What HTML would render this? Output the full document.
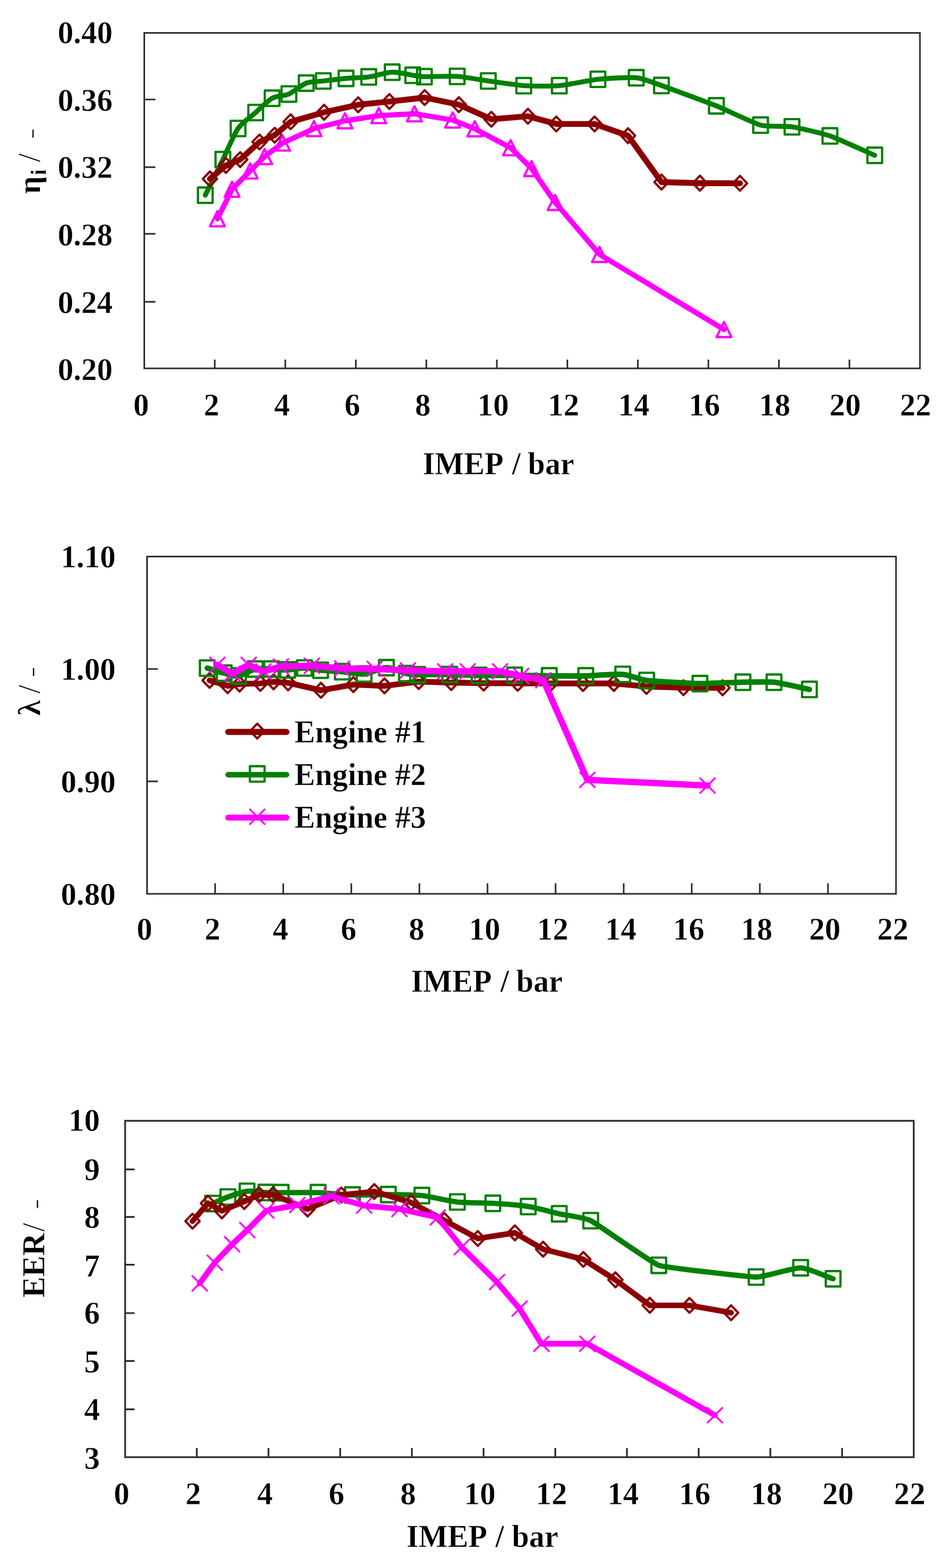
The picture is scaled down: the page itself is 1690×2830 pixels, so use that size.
<!DOCTYPE html>
<html lang="en">
<head>
<meta charset="utf-8">
<title>Engine comparison: efficiency, lambda and EER versus IMEP</title>
<style>
html,body{margin:0;padding:0;background:#fff}
body{width:1690px;height:2830px;overflow:hidden}
svg{display:block;filter:blur(0.7px)}
svg text{font-family:"Liberation Serif","DejaVu Serif",serif;fill:#000;stroke:#fff;stroke-width:0.5px;stroke-linejoin:round}
</style>
</head>
<body>
<svg width="1690" height="2830" viewBox="0 0 1690 2830">
<rect width="1690" height="2830" fill="#fff"/>
<g id="chart1">
<g fill="none" stroke="#2c2c2c" stroke-width="2.9"><rect x="260.5" y="59.4" width="1400.5" height="605.5"/><path d="M387.8 664.9v-16M515.1 664.9v-16M642.5 664.9v-16M769.8 664.9v-16M897.1 664.9v-16M1024.4 664.9v-16M1151.7 664.9v-16M1279 664.9v-16M1406.4 664.9v-16M1533.7 664.9v-16M260.5 179.6h20M260.5 301.8h20M260.5 422h20M260.5 544.8h20"/></g>
<path d="M370.6 352.3 C376.4 340.7 396.8 299.7 402.5 288 C408.2 276.3 422.4 242.5 429.8 231.9 C437.2 221.3 452.8 210.9 461.6 203.1 C470.4 195.3 483.1 181.9 491.3 177.3 C499.5 172.7 513 173.5 521.6 169.7 C530.2 165.9 544.2 153.3 552.9 150 C561.6 146.7 574.5 147.2 583.8 146.1 C593.1 145 612.4 142.6 624.7 141.5 C637 140.4 653.5 140.4 665.7 138.8 C677.9 137.2 696.8 130.7 708.1 130.3 C719.4 129.9 739 134.9 745.3 135.8 C751.6 136.7 759.9 138.2 766.2 138.4 C772.5 138.6 812.5 137 825.5 137.9 C838.5 138.8 868.7 144.3 881.6 146.1 C894.5 147.9 932.6 153.7 945.6 154.6 C958.6 155.5 996.9 155.7 1009.9 154.6 C1022.9 153.5 1066.7 144.4 1079.6 143.1 C1092.5 141.8 1135.8 139 1148.7 140.3 C1161.6 141.6 1182 150 1194.3 154.3 C1206.6 158.6 1281.3 186.2 1293.4 191 C1305.5 195.8 1360.7 222.3 1373.2 225.8 C1385.7 229.3 1417.1 226.9 1429.9 228.9 C1442.7 230.9 1486.2 241.1 1498.5 245.3 C1510.8 249.5 1567.5 275.1 1579.4 280.3" fill="none" stroke="#008000" stroke-width="8.9" stroke-linecap="round" stroke-linejoin="round"/>
<g fill="none" stroke="#008000" stroke-width="4.1" stroke-linejoin="round" stroke-linecap="butt"><rect x="357.4" y="338.4" width="26.5" height="27.8"/><rect x="389.2" y="274.1" width="26.5" height="27.8"/><rect x="416.6" y="218" width="26.5" height="27.8"/><rect x="448.4" y="189.2" width="26.5" height="27.8"/><rect x="478.1" y="163.4" width="26.5" height="27.8"/><rect x="508.4" y="155.8" width="26.5" height="27.8"/><rect x="539.6" y="136.1" width="26.5" height="27.8"/><rect x="570.5" y="132.2" width="26.5" height="27.8"/><rect x="611.5" y="127.6" width="26.5" height="27.8"/><rect x="652.5" y="124.9" width="26.5" height="27.8"/><rect x="694.9" y="116.4" width="26.5" height="27.8"/><rect x="732" y="121.9" width="26.5" height="27.8"/><rect x="753" y="124.5" width="26.5" height="27.8"/><rect x="812.2" y="124" width="26.5" height="27.8"/><rect x="868.4" y="132.2" width="26.5" height="27.8"/><rect x="932.4" y="140.7" width="26.5" height="27.8"/><rect x="996.6" y="140.7" width="26.5" height="27.8"/><rect x="1066.3" y="129.2" width="26.5" height="27.8"/><rect x="1135.5" y="126.4" width="26.5" height="27.8"/><rect x="1181" y="140.4" width="26.5" height="27.8"/><rect x="1280.2" y="177.1" width="26.5" height="27.8"/><rect x="1360" y="211.9" width="26.5" height="27.8"/><rect x="1416.7" y="215" width="26.5" height="27.8"/><rect x="1485.2" y="231.4" width="26.5" height="27.8"/><rect x="1566.2" y="266.4" width="26.5" height="27.8"/></g>
<path d="M379.1 322.9 L407.9 298.6 L433.7 288 L468.6 256.2 L495.9 244 L524.7 219.8 L585.2 202.6 L646.8 189.1 L703.1 183.2 L766.8 176.1 L828.5 188.9 L887.1 215.2 L953.2 209.8 L1004.4 223.7 L1073.5 223.7 L1134 244.9 L1194.3 328.6 L1263.7 330.6 L1336.1 330.8" fill="none" stroke="#8b0000" stroke-width="10.6" stroke-linecap="round" stroke-linejoin="round"/>
<g fill="none" stroke="#8b0000" stroke-width="4.1" stroke-linejoin="round" stroke-linecap="butt"><path d="M379.1 309.5 l12.9 13.4 l-12.9 13.4 l-12.9 -13.4 z"/><path d="M407.9 285.2 l12.9 13.4 l-12.9 13.4 l-12.9 -13.4 z"/><path d="M433.7 274.6 l12.9 13.4 l-12.9 13.4 l-12.9 -13.4 z"/><path d="M468.6 242.8 l12.9 13.4 l-12.9 13.4 l-12.9 -13.4 z"/><path d="M495.9 230.6 l12.9 13.4 l-12.9 13.4 l-12.9 -13.4 z"/><path d="M524.7 206.4 l12.9 13.4 l-12.9 13.4 l-12.9 -13.4 z"/><path d="M585.2 189.2 l12.9 13.4 l-12.9 13.4 l-12.9 -13.4 z"/><path d="M646.8 175.7 l12.9 13.4 l-12.9 13.4 l-12.9 -13.4 z"/><path d="M703.1 169.8 l12.9 13.4 l-12.9 13.4 l-12.9 -13.4 z"/><path d="M766.8 162.7 l12.9 13.4 l-12.9 13.4 l-12.9 -13.4 z"/><path d="M828.5 175.5 l12.9 13.4 l-12.9 13.4 l-12.9 -13.4 z"/><path d="M887.1 201.8 l12.9 13.4 l-12.9 13.4 l-12.9 -13.4 z"/><path d="M953.2 196.4 l12.9 13.4 l-12.9 13.4 l-12.9 -13.4 z"/><path d="M1004.4 210.3 l12.9 13.4 l-12.9 13.4 l-12.9 -13.4 z"/><path d="M1073.5 210.3 l12.9 13.4 l-12.9 13.4 l-12.9 -13.4 z"/><path d="M1134 231.5 l12.9 13.4 l-12.9 13.4 l-12.9 -13.4 z"/><path d="M1194.3 315.2 l12.9 13.4 l-12.9 13.4 l-12.9 -13.4 z"/><path d="M1263.7 317.2 l12.9 13.4 l-12.9 13.4 l-12.9 -13.4 z"/><path d="M1336.1 317.4 l12.9 13.4 l-12.9 13.4 l-12.9 -13.4 z"/></g>
<path d="M392.6 394.9 L419 341.6 L451.7 308.5 L477.8 282.5 L510.1 258.2 L566.9 232.1 L622.8 218 L683.9 208.7 L748.3 205.3 L817.3 216.6 L857.3 232.4 L921.9 266.7 L959.8 304.2 L1002.4 365.5 L1082.5 459.2 L1307.2 594.8" fill="none" stroke="#ff00ff" stroke-width="9.5" stroke-linecap="round" stroke-linejoin="round"/>
<g fill="none" stroke="#ff00ff" stroke-width="4.1" stroke-linejoin="round" stroke-linecap="butt"><path d="M392.6 381.2 l13.4 27.3 h-26.9 z"/><path d="M419 328 l13.4 27.3 h-26.9 z"/><path d="M451.7 294.9 l13.4 27.3 h-26.9 z"/><path d="M477.8 268.9 l13.4 27.3 h-26.9 z"/><path d="M510.1 244.5 l13.4 27.3 h-26.9 z"/><path d="M566.9 218.4 l13.4 27.3 h-26.9 z"/><path d="M622.8 204.3 l13.4 27.3 h-26.9 z"/><path d="M683.9 195 l13.4 27.3 h-26.9 z"/><path d="M748.3 191.7 l13.4 27.3 h-26.9 z"/><path d="M817.3 202.9 l13.4 27.3 h-26.9 z"/><path d="M857.3 218.8 l13.4 27.3 h-26.9 z"/><path d="M921.9 253 l13.4 27.3 h-26.9 z"/><path d="M959.8 290.6 l13.4 27.3 h-26.9 z"/><path d="M1002.4 351.9 l13.4 27.3 h-26.9 z"/><path d="M1082.5 445.6 l13.4 27.3 h-26.9 z"/><path d="M1307.2 581.1 l13.4 27.3 h-26.9 z"/></g>
<text transform="translate(203.4 78) scale(0.98 1)" text-anchor="end" font-size="57.8" font-weight="bold">0.40</text>
<text transform="translate(203.4 199.9) scale(0.98 1)" text-anchor="end" font-size="57.8" font-weight="bold">0.36</text>
<text transform="translate(203.4 320.9) scale(0.98 1)" text-anchor="end" font-size="57.8" font-weight="bold">0.32</text>
<text transform="translate(203.4 443.3) scale(0.98 1)" text-anchor="end" font-size="57.8" font-weight="bold">0.28</text>
<text transform="translate(203.4 564.6) scale(0.98 1)" text-anchor="end" font-size="57.8" font-weight="bold">0.24</text>
<text transform="translate(203.4 686.4) scale(0.98 1)" text-anchor="end" font-size="57.8" font-weight="bold">0.20</text>
<text transform="translate(254.9 750.3) scale(0.98 1)" text-anchor="middle" font-size="57.8" font-weight="bold">0</text>
<text transform="translate(382 750.3) scale(0.98 1)" text-anchor="middle" font-size="57.8" font-weight="bold">2</text>
<text transform="translate(509.1 750.3) scale(0.98 1)" text-anchor="middle" font-size="57.8" font-weight="bold">4</text>
<text transform="translate(636.2 750.3) scale(0.98 1)" text-anchor="middle" font-size="57.8" font-weight="bold">6</text>
<text transform="translate(763.3 750.3) scale(0.98 1)" text-anchor="middle" font-size="57.8" font-weight="bold">8</text>
<text transform="translate(890.4 750.3) scale(0.98 1)" text-anchor="middle" font-size="57.8" font-weight="bold">10</text>
<text transform="translate(1017.5 750.3) scale(0.98 1)" text-anchor="middle" font-size="57.8" font-weight="bold">12</text>
<text transform="translate(1144.6 750.3) scale(0.98 1)" text-anchor="middle" font-size="57.8" font-weight="bold">14</text>
<text transform="translate(1271.7 750.3) scale(0.98 1)" text-anchor="middle" font-size="57.8" font-weight="bold">16</text>
<text transform="translate(1398.8 750.3) scale(0.98 1)" text-anchor="middle" font-size="57.8" font-weight="bold">18</text>
<text transform="translate(1525.9 750.3) scale(0.98 1)" text-anchor="middle" font-size="57.8" font-weight="bold">20</text>
<text transform="translate(1653 750.3) scale(0.98 1)" text-anchor="middle" font-size="57.8" font-weight="bold">22</text>
<text transform="translate(0 856.3) scale(0.98 1)" font-size="57" font-weight="bold"><tspan x="778.9">IMEP</tspan><tspan x="951.3" text-anchor="middle"> / </tspan><tspan x="1015.3" text-anchor="middle">bar</tspan></text>
<text transform="translate(71.8 350) rotate(-90) scale(0.98 1)" font-size="57.8" font-weight="bold">η</text>
<text transform="translate(83.2 316.3) rotate(-90) scale(0.98 1)" font-size="39" font-weight="bold">i</text>
<text transform="translate(71.8 292.5) rotate(-90) scale(0.98 1)" font-size="57.8" font-weight="normal">/</text>
<text transform="translate(69.4 250.8) rotate(-90) scale(0.98 0.66)" font-size="57.8" font-weight="normal">-</text>
</g>
<g id="chart2">
<g fill="none" stroke="#2c2c2c" stroke-width="2.9"><rect x="265.5" y="1004.5" width="1352.3" height="608.7"/><path d="M388.4 1613.2v-19M511.4 1613.2v-19M634.3 1613.2v-19M757.2 1613.2v-19M880.2 1613.2v-19M1003.1 1613.2v-19M1126.1 1613.2v-19M1249 1613.2v-19M1371.9 1613.2v-19M1494.9 1613.2v-19M265.5 1207.4h19.5M265.5 1410.3h19.5"/></g>
<path d="M378.5 1228 L411 1237.7 L432.5 1234.6 L470.1 1233.4 L494 1230.6 L520.2 1232.4 L579.5 1245.9 L638 1235.6 L694.2 1237.9 L756 1230.2 L814.7 1231.9 L873.2 1232.9 L934.8 1233.3 L994 1233.6 L1052.6 1233.6 L1108.4 1233.6 L1167.3 1238.9 L1234 1241.2 L1304.7 1241.4" fill="none" stroke="#8b0000" stroke-width="10.5" stroke-linecap="round" stroke-linejoin="round"/>
<g fill="none" stroke="#8b0000" stroke-width="4.1" stroke-linejoin="round" stroke-linecap="butt"><path d="M378.5 1214.6 l12.9 13.4 l-12.9 13.4 l-12.9 -13.4 z"/><path d="M411 1224.3 l12.9 13.4 l-12.9 13.4 l-12.9 -13.4 z"/><path d="M432.5 1221.2 l12.9 13.4 l-12.9 13.4 l-12.9 -13.4 z"/><path d="M470.1 1220 l12.9 13.4 l-12.9 13.4 l-12.9 -13.4 z"/><path d="M494 1217.2 l12.9 13.4 l-12.9 13.4 l-12.9 -13.4 z"/><path d="M520.2 1219 l12.9 13.4 l-12.9 13.4 l-12.9 -13.4 z"/><path d="M579.5 1232.5 l12.9 13.4 l-12.9 13.4 l-12.9 -13.4 z"/><path d="M638 1222.2 l12.9 13.4 l-12.9 13.4 l-12.9 -13.4 z"/><path d="M694.2 1224.5 l12.9 13.4 l-12.9 13.4 l-12.9 -13.4 z"/><path d="M756 1216.8 l12.9 13.4 l-12.9 13.4 l-12.9 -13.4 z"/><path d="M814.7 1218.5 l12.9 13.4 l-12.9 13.4 l-12.9 -13.4 z"/><path d="M873.2 1219.5 l12.9 13.4 l-12.9 13.4 l-12.9 -13.4 z"/><path d="M934.8 1219.9 l12.9 13.4 l-12.9 13.4 l-12.9 -13.4 z"/><path d="M994 1220.2 l12.9 13.4 l-12.9 13.4 l-12.9 -13.4 z"/><path d="M1052.6 1220.2 l12.9 13.4 l-12.9 13.4 l-12.9 -13.4 z"/><path d="M1108.4 1220.2 l12.9 13.4 l-12.9 13.4 l-12.9 -13.4 z"/><path d="M1167.3 1225.5 l12.9 13.4 l-12.9 13.4 l-12.9 -13.4 z"/><path d="M1234 1227.8 l12.9 13.4 l-12.9 13.4 l-12.9 -13.4 z"/><path d="M1304.7 1228 l12.9 13.4 l-12.9 13.4 l-12.9 -13.4 z"/></g>
<path d="M374.2 1205.8 C383.4 1208.6 397.2 1213.1 404.8 1215 C412.4 1216.9 422.8 1221 430.6 1220 C438.4 1219 452.5 1209.3 461 1207.5 C469.5 1205.7 481.3 1207.3 490 1207.5 C498.7 1207.7 510.6 1209.3 519.5 1209 C528.4 1208.7 540.7 1205.5 549.6 1205.6 C558.5 1205.7 570.1 1208.7 578.9 1209.6 C587.7 1210.5 606.3 1211.3 618 1212.3 C629.7 1213.3 645.6 1217.5 657.4 1216.4 C669.2 1215.3 686.2 1205.1 697.6 1205 C709 1204.9 728 1214.4 733.9 1215.7 C739.8 1217 747.9 1217.6 754 1217.7 C760.1 1217.8 799 1217.2 812 1217.4 C825 1217.6 852 1218.8 865 1219 C878 1219.2 916 1218.7 929 1218.8 C942 1218.9 978.8 1219.7 991.8 1219.8 C1004.8 1219.9 1044.6 1220.1 1057.6 1219.8 C1070.6 1219.5 1111.5 1216.2 1124.5 1217.2 C1137.5 1218.2 1154.7 1226.7 1167.6 1228.2 C1180.5 1229.7 1250.7 1233.6 1263.7 1233.8 C1276.7 1234 1328.4 1231.5 1341.4 1231.3 C1354.4 1231.1 1384.6 1229.9 1397.5 1231.3 C1410.4 1232.7 1448.8 1241.7 1461.5 1244.3" fill="none" stroke="#008000" stroke-width="10" stroke-linecap="round" stroke-linejoin="round"/>
<g fill="none" stroke="#008000" stroke-width="4.1" stroke-linejoin="round" stroke-linecap="butt"><rect x="360.9" y="1191.9" width="26.5" height="27.8"/><rect x="391.6" y="1201.1" width="26.5" height="27.8"/><rect x="417.4" y="1206.1" width="26.5" height="27.8"/><rect x="447.8" y="1193.6" width="26.5" height="27.8"/><rect x="476.8" y="1193.6" width="26.5" height="27.8"/><rect x="506.2" y="1195.1" width="26.5" height="27.8"/><rect x="536.4" y="1191.7" width="26.5" height="27.8"/><rect x="565.6" y="1195.7" width="26.5" height="27.8"/><rect x="604.8" y="1198.4" width="26.5" height="27.8"/><rect x="644.1" y="1202.5" width="26.5" height="27.8"/><rect x="684.4" y="1191.1" width="26.5" height="27.8"/><rect x="720.6" y="1201.8" width="26.5" height="27.8"/><rect x="740.8" y="1203.8" width="26.5" height="27.8"/><rect x="798.8" y="1203.5" width="26.5" height="27.8"/><rect x="851.8" y="1205.1" width="26.5" height="27.8"/><rect x="915.8" y="1204.9" width="26.5" height="27.8"/><rect x="978.5" y="1205.9" width="26.5" height="27.8"/><rect x="1044.3" y="1205.9" width="26.5" height="27.8"/><rect x="1111.2" y="1203.3" width="26.5" height="27.8"/><rect x="1154.3" y="1214.3" width="26.5" height="27.8"/><rect x="1250.5" y="1219.9" width="26.5" height="27.8"/><rect x="1328.2" y="1217.4" width="26.5" height="27.8"/><rect x="1384.2" y="1217.4" width="26.5" height="27.8"/><rect x="1448.2" y="1230.4" width="26.5" height="27.8"/></g>
<path d="M392.5 1199.9 L420 1216 L449 1199.9 L475.5 1212 L507 1203 L563.2 1201.5 L617.8 1206.5 L676.4 1207.2 L736.5 1210 L803.9 1211.8 L844.4 1211.6 L902.9 1211.6 L940.8 1220 L981 1227.6 L1060.5 1407.5 L1277.5 1417.8" fill="none" stroke="#ff00ff" stroke-width="11.5" stroke-linecap="round" stroke-linejoin="round"/>
<g fill="none" stroke="#ff00ff" stroke-width="3.3" stroke-linejoin="round" stroke-linecap="round"><path d="M379.2 1186.6 l26.6 26.6 m-26.6 0 l26.6 -26.6"/><path d="M406.7 1202.7 l26.6 26.6 m-26.6 0 l26.6 -26.6"/><path d="M435.7 1186.6 l26.6 26.6 m-26.6 0 l26.6 -26.6"/><path d="M462.2 1198.7 l26.6 26.6 m-26.6 0 l26.6 -26.6"/><path d="M493.7 1189.7 l26.6 26.6 m-26.6 0 l26.6 -26.6"/><path d="M549.9 1188.2 l26.6 26.6 m-26.6 0 l26.6 -26.6"/><path d="M604.5 1193.2 l26.6 26.6 m-26.6 0 l26.6 -26.6"/><path d="M663.1 1193.9 l26.6 26.6 m-26.6 0 l26.6 -26.6"/><path d="M723.2 1196.7 l26.6 26.6 m-26.6 0 l26.6 -26.6"/><path d="M790.6 1198.5 l26.6 26.6 m-26.6 0 l26.6 -26.6"/><path d="M831.1 1198.3 l26.6 26.6 m-26.6 0 l26.6 -26.6"/><path d="M889.6 1198.3 l26.6 26.6 m-26.6 0 l26.6 -26.6"/><path d="M927.5 1206.7 l26.6 26.6 m-26.6 0 l26.6 -26.6"/><path d="M967.7 1214.3 l26.6 26.6 m-26.6 0 l26.6 -26.6"/><path d="M1047.2 1394.2 l26.6 26.6 m-26.6 0 l26.6 -26.6"/><path d="M1264.2 1404.5 l26.6 26.6 m-26.6 0 l26.6 -26.6"/></g>
<text transform="translate(208.8 1023.6) scale(0.98 1)" text-anchor="end" font-size="57.8" font-weight="bold">1.10</text>
<text transform="translate(208.8 1226.7) scale(0.98 1)" text-anchor="end" font-size="57.8" font-weight="bold">1.00</text>
<text transform="translate(208.8 1429.8) scale(0.98 1)" text-anchor="end" font-size="57.8" font-weight="bold">0.90</text>
<text transform="translate(208.8 1632.9) scale(0.98 1)" text-anchor="end" font-size="57.8" font-weight="bold">0.80</text>
<text transform="translate(260.8 1696.3) scale(0.98 1)" text-anchor="middle" font-size="57.8" font-weight="bold">0</text>
<text transform="translate(383.6 1696.3) scale(0.98 1)" text-anchor="middle" font-size="57.8" font-weight="bold">2</text>
<text transform="translate(506.5 1696.3) scale(0.98 1)" text-anchor="middle" font-size="57.8" font-weight="bold">4</text>
<text transform="translate(629.3 1696.3) scale(0.98 1)" text-anchor="middle" font-size="57.8" font-weight="bold">6</text>
<text transform="translate(752.2 1696.3) scale(0.98 1)" text-anchor="middle" font-size="57.8" font-weight="bold">8</text>
<text transform="translate(875 1696.3) scale(0.98 1)" text-anchor="middle" font-size="57.8" font-weight="bold">10</text>
<text transform="translate(997.9 1696.3) scale(0.98 1)" text-anchor="middle" font-size="57.8" font-weight="bold">12</text>
<text transform="translate(1120.8 1696.3) scale(0.98 1)" text-anchor="middle" font-size="57.8" font-weight="bold">14</text>
<text transform="translate(1243.6 1696.3) scale(0.98 1)" text-anchor="middle" font-size="57.8" font-weight="bold">16</text>
<text transform="translate(1366.4 1696.3) scale(0.98 1)" text-anchor="middle" font-size="57.8" font-weight="bold">18</text>
<text transform="translate(1489.3 1696.3) scale(0.98 1)" text-anchor="middle" font-size="57.8" font-weight="bold">20</text>
<text transform="translate(1612.1 1696.3) scale(0.98 1)" text-anchor="middle" font-size="57.8" font-weight="bold">22</text>
<text transform="translate(0 1790.2) scale(0.98 1)" font-size="57" font-weight="bold"><tspan x="757.3">IMEP</tspan><tspan x="929.8" text-anchor="middle"> / </tspan><tspan x="993.9" text-anchor="middle">bar</tspan></text>
<text transform="translate(72.3 1291.7) rotate(-90) scale(0.98 1)" font-size="57.8" font-weight="bold">λ</text>
<text transform="translate(72.3 1251.7) rotate(-90) scale(0.98 1)" font-size="57.8" font-weight="normal">/</text>
<text transform="translate(69.9 1222.5) rotate(-90) scale(0.98 0.66)" font-size="57.8" font-weight="normal">-</text>
<path d="M412 1321H517.3" fill="none" stroke="#8b0000" stroke-width="10.8" stroke-linecap="round"/>
<g fill="none" stroke="#8b0000" stroke-width="4.1" stroke-linejoin="round" stroke-linecap="butt"><path d="M464.5 1306.1 l12.9 13.4 l-12.9 13.4 l-12.9 -13.4 z"/></g>
<text transform="translate(531.8 1339.6) scale(0.98 1)" text-anchor="start" font-size="57" font-weight="bold">Engine #1</text>
<path d="M412 1398.3H517.3" fill="none" stroke="#008000" stroke-width="10" stroke-linecap="round"/>
<g fill="none" stroke="#008000" stroke-width="4.1" stroke-linejoin="round" stroke-linecap="butt"><rect x="451.2" y="1382.9" width="26.5" height="27.8"/></g>
<text transform="translate(531.8 1416.9) scale(0.98 1)" text-anchor="start" font-size="57" font-weight="bold">Engine #2</text>
<path d="M412 1475.6H517.3" fill="none" stroke="#ff00ff" stroke-width="10.6" stroke-linecap="round"/>
<g fill="none" stroke="#ff00ff" stroke-width="3.3" stroke-linejoin="round" stroke-linecap="round"><path d="M451.2 1460.8 l26.6 26.6 m-26.6 0 l26.6 -26.6"/></g>
<text transform="translate(531.8 1494.2) scale(0.98 1)" text-anchor="start" font-size="57" font-weight="bold">Engine #3</text>
</g>
<g id="chart3">
<g fill="none" stroke="#2c2c2c" stroke-width="3.2"><rect x="225.9" y="2022.9" width="1423.9" height="607.1"/><path d="M355.3 2630v-16.5M484.8 2630v-16.5M614.2 2630v-16.5M743.7 2630v-16.5M873.1 2630v-16.5M1002.6 2630v-16.5M1132 2630v-16.5M1261.5 2630v-16.5M1390.9 2630v-16.5M1520.4 2630v-16.5M225.9 2110.6h17M225.9 2196.4h17M225.9 2282.6h17M225.9 2370h17M225.9 2456.4h17M225.9 2543.7h17"/></g>
<path d="M383.8 2172.2 C392.1 2168.7 403 2163.4 411.5 2160.4 C420 2157.4 435.8 2151.3 446 2150.1 C456.2 2148.9 471.7 2152 480 2152.3 C488.3 2152.6 499.3 2152.5 507.6 2152.5 C515.9 2152.5 561.4 2152.1 574.4 2152.5 C587.4 2152.9 623.4 2156.4 636.4 2156.8 C649.4 2157.2 688.1 2155.9 701.1 2156 C714.1 2156.1 748.9 2156.4 761.8 2157.8 C774.7 2159.2 812.9 2168 825.8 2169.4 C838.7 2170.8 876.9 2171 889.9 2171.8 C902.9 2172.6 941 2175.6 953.8 2177.6 C966.6 2179.6 997 2187.8 1009.7 2190.7 C1022.4 2193.6 1055.1 2197.1 1066.6 2203.1 C1078.1 2209.1 1177.1 2279.5 1189.4 2283.7 C1201.7 2287.9 1352.3 2304.7 1365.3 2304.9 C1378.3 2305.1 1432.6 2287.9 1445.6 2288.2 C1458.6 2288.5 1491.9 2303.8 1504.2 2308" fill="none" stroke="#008000" stroke-width="9.6" stroke-linecap="round" stroke-linejoin="round"/>
<g fill="none" stroke="#008000" stroke-width="4.1" stroke-linejoin="round" stroke-linecap="butt"><rect x="370.6" y="2158.3" width="26.5" height="27.8"/><rect x="398.2" y="2146.5" width="26.5" height="27.8"/><rect x="432.8" y="2136.2" width="26.5" height="27.8"/><rect x="466.8" y="2138.4" width="26.5" height="27.8"/><rect x="494.4" y="2138.6" width="26.5" height="27.8"/><rect x="561.1" y="2138.6" width="26.5" height="27.8"/><rect x="623.1" y="2142.9" width="26.5" height="27.8"/><rect x="687.9" y="2142.1" width="26.5" height="27.8"/><rect x="748.5" y="2143.9" width="26.5" height="27.8"/><rect x="812.5" y="2155.5" width="26.5" height="27.8"/><rect x="876.6" y="2157.9" width="26.5" height="27.8"/><rect x="940.5" y="2163.7" width="26.5" height="27.8"/><rect x="996.5" y="2176.8" width="26.5" height="27.8"/><rect x="1053.3" y="2189.2" width="26.5" height="27.8"/><rect x="1176.2" y="2269.8" width="26.5" height="27.8"/><rect x="1352" y="2291" width="26.5" height="27.8"/><rect x="1432.3" y="2274.3" width="26.5" height="27.8"/><rect x="1491" y="2294.1" width="26.5" height="27.8"/></g>
<path d="M347.6 2204 L375.5 2171.6 L400.6 2185.4 L441 2168.6 L467.7 2156.3 L493 2156.3 L555.4 2182.1 L616.3 2156.8 L675.8 2150.5 L742.3 2170.4 L802 2202.6 L862.7 2235.3 L929.6 2225.1 L980.6 2254.6 L1053.2 2273 L1111.2 2309.9 L1173.2 2355.9 L1244.9 2356 L1320 2369.3" fill="none" stroke="#8b0000" stroke-width="10.2" stroke-linecap="round" stroke-linejoin="round"/>
<g fill="none" stroke="#8b0000" stroke-width="4.1" stroke-linejoin="round" stroke-linecap="butt"><path d="M347.6 2190.6 l12.9 13.4 l-12.9 13.4 l-12.9 -13.4 z"/><path d="M375.5 2158.2 l12.9 13.4 l-12.9 13.4 l-12.9 -13.4 z"/><path d="M400.6 2172 l12.9 13.4 l-12.9 13.4 l-12.9 -13.4 z"/><path d="M441 2155.2 l12.9 13.4 l-12.9 13.4 l-12.9 -13.4 z"/><path d="M467.7 2142.9 l12.9 13.4 l-12.9 13.4 l-12.9 -13.4 z"/><path d="M493 2142.9 l12.9 13.4 l-12.9 13.4 l-12.9 -13.4 z"/><path d="M555.4 2168.7 l12.9 13.4 l-12.9 13.4 l-12.9 -13.4 z"/><path d="M616.3 2143.4 l12.9 13.4 l-12.9 13.4 l-12.9 -13.4 z"/><path d="M675.8 2137.1 l12.9 13.4 l-12.9 13.4 l-12.9 -13.4 z"/><path d="M742.3 2157 l12.9 13.4 l-12.9 13.4 l-12.9 -13.4 z"/><path d="M802 2189.2 l12.9 13.4 l-12.9 13.4 l-12.9 -13.4 z"/><path d="M862.7 2221.9 l12.9 13.4 l-12.9 13.4 l-12.9 -13.4 z"/><path d="M929.6 2211.7 l12.9 13.4 l-12.9 13.4 l-12.9 -13.4 z"/><path d="M980.6 2241.2 l12.9 13.4 l-12.9 13.4 l-12.9 -13.4 z"/><path d="M1053.2 2259.6 l12.9 13.4 l-12.9 13.4 l-12.9 -13.4 z"/><path d="M1111.2 2296.5 l12.9 13.4 l-12.9 13.4 l-12.9 -13.4 z"/><path d="M1173.2 2342.5 l12.9 13.4 l-12.9 13.4 l-12.9 -13.4 z"/><path d="M1244.9 2342.6 l12.9 13.4 l-12.9 13.4 l-12.9 -13.4 z"/><path d="M1320 2355.9 l12.9 13.4 l-12.9 13.4 l-12.9 -13.4 z"/></g>
<path d="M360.6 2316.2 L387.7 2279 L419.2 2245.8 L446.5 2220.1 L481 2185 L536.8 2174.8 L598.4 2159 L657.4 2175.9 L721.2 2182 L790.4 2197.2 L833.6 2251 L897.3 2314 L938.1 2361.8 L977.6 2425.2 L1060.4 2425.2 L1290.8 2554.3" fill="none" stroke="#ff00ff" stroke-width="10.4" stroke-linecap="round" stroke-linejoin="round"/>
<g fill="none" stroke="#ff00ff" stroke-width="3.3" stroke-linejoin="round" stroke-linecap="round"><path d="M347.3 2302.9 l26.6 26.6 m-26.6 0 l26.6 -26.6"/><path d="M374.4 2265.7 l26.6 26.6 m-26.6 0 l26.6 -26.6"/><path d="M405.9 2232.5 l26.6 26.6 m-26.6 0 l26.6 -26.6"/><path d="M433.2 2206.8 l26.6 26.6 m-26.6 0 l26.6 -26.6"/><path d="M467.7 2171.7 l26.6 26.6 m-26.6 0 l26.6 -26.6"/><path d="M523.5 2161.5 l26.6 26.6 m-26.6 0 l26.6 -26.6"/><path d="M585.1 2145.7 l26.6 26.6 m-26.6 0 l26.6 -26.6"/><path d="M644.1 2162.6 l26.6 26.6 m-26.6 0 l26.6 -26.6"/><path d="M707.9 2168.7 l26.6 26.6 m-26.6 0 l26.6 -26.6"/><path d="M777.1 2183.9 l26.6 26.6 m-26.6 0 l26.6 -26.6"/><path d="M820.3 2237.7 l26.6 26.6 m-26.6 0 l26.6 -26.6"/><path d="M884 2300.7 l26.6 26.6 m-26.6 0 l26.6 -26.6"/><path d="M924.8 2348.5 l26.6 26.6 m-26.6 0 l26.6 -26.6"/><path d="M964.3 2411.9 l26.6 26.6 m-26.6 0 l26.6 -26.6"/><path d="M1047.1 2411.9 l26.6 26.6 m-26.6 0 l26.6 -26.6"/><path d="M1277.5 2541 l26.6 26.6 m-26.6 0 l26.6 -26.6"/></g>
<text transform="translate(180.3 2041.3) scale(0.98 1)" text-anchor="end" font-size="57.8" font-weight="bold">10</text>
<text transform="translate(180.3 2129.5) scale(0.98 1)" text-anchor="end" font-size="57.8" font-weight="bold">9</text>
<text transform="translate(180.3 2215.9) scale(0.98 1)" text-anchor="end" font-size="57.8" font-weight="bold">8</text>
<text transform="translate(180.3 2303.5) scale(0.98 1)" text-anchor="end" font-size="57.8" font-weight="bold">7</text>
<text transform="translate(180.3 2389.1) scale(0.98 1)" text-anchor="end" font-size="57.8" font-weight="bold">6</text>
<text transform="translate(180.3 2477.1) scale(0.98 1)" text-anchor="end" font-size="57.8" font-weight="bold">5</text>
<text transform="translate(180.3 2562.7) scale(0.98 1)" text-anchor="end" font-size="57.8" font-weight="bold">4</text>
<text transform="translate(180.3 2650.5) scale(0.98 1)" text-anchor="end" font-size="57.8" font-weight="bold">3</text>
<text transform="translate(219.6 2715) scale(0.98 1)" text-anchor="middle" font-size="57.8" font-weight="bold">0</text>
<text transform="translate(348.9 2715) scale(0.98 1)" text-anchor="middle" font-size="57.8" font-weight="bold">2</text>
<text transform="translate(478.3 2715) scale(0.98 1)" text-anchor="middle" font-size="57.8" font-weight="bold">4</text>
<text transform="translate(607.6 2715) scale(0.98 1)" text-anchor="middle" font-size="57.8" font-weight="bold">6</text>
<text transform="translate(737 2715) scale(0.98 1)" text-anchor="middle" font-size="57.8" font-weight="bold">8</text>
<text transform="translate(866.4 2715) scale(0.98 1)" text-anchor="middle" font-size="57.8" font-weight="bold">10</text>
<text transform="translate(995.7 2715) scale(0.98 1)" text-anchor="middle" font-size="57.8" font-weight="bold">12</text>
<text transform="translate(1125 2715) scale(0.98 1)" text-anchor="middle" font-size="57.8" font-weight="bold">14</text>
<text transform="translate(1254.4 2715) scale(0.98 1)" text-anchor="middle" font-size="57.8" font-weight="bold">16</text>
<text transform="translate(1383.7 2715) scale(0.98 1)" text-anchor="middle" font-size="57.8" font-weight="bold">18</text>
<text transform="translate(1513.1 2715) scale(0.98 1)" text-anchor="middle" font-size="57.8" font-weight="bold">20</text>
<text transform="translate(1642.4 2715) scale(0.98 1)" text-anchor="middle" font-size="57.8" font-weight="bold">22</text>
<text transform="translate(0 2792.4) scale(0.98 1)" font-size="57" font-weight="bold"><tspan x="748.9">IMEP</tspan><tspan x="920.8" text-anchor="middle"> / </tspan><tspan x="985.9" text-anchor="middle">bar</tspan></text>
<text transform="translate(80.4 2342) rotate(-90) scale(0.98 1)" font-size="57.8" font-weight="bold">EER</text>
<text transform="translate(80.4 2223) rotate(-90) scale(0.98 1)" font-size="57.8" font-weight="normal">/</text>
<text transform="translate(77.3 2182.8) rotate(-90) scale(0.98 0.66)" font-size="57.8" font-weight="normal">-</text>
</g>
</svg>
</body>
</html>
